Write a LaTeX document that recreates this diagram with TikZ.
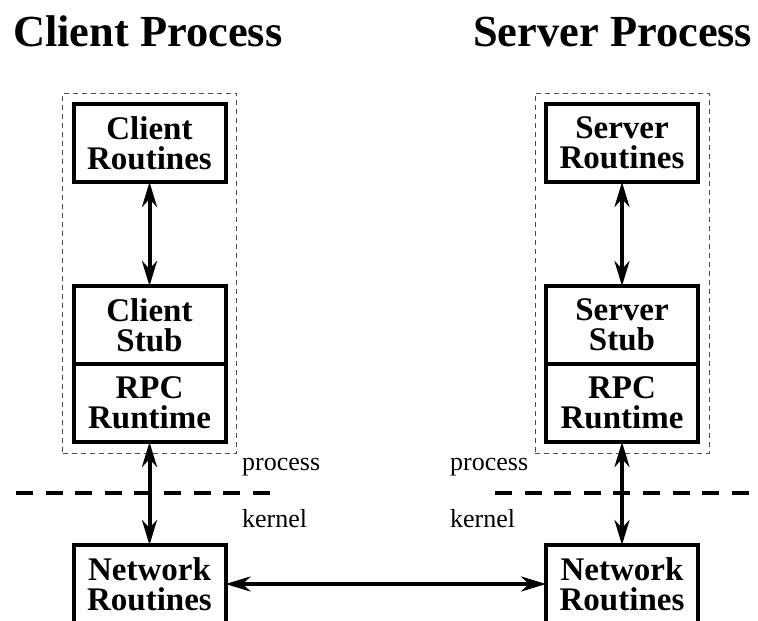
\documentclass[tikz,border=0pt]{standalone}
\usepackage{fontspec}
\setmainfont{Liberation Serif}
\usepackage{tikz}
\usetikzlibrary{arrows.meta}
\usetikzlibrary{positioning}
\usetikzlibrary{fit}

\begin{document}
\begin{tikzpicture}[x=1pt, y=-1pt,
  every node/.style = {align=center, inner sep=0pt},
  box/.style = {draw, line width=4pt, outer sep=0pt, minimum width=152pt,
    minimum height=78pt, font=\bfseries\fontsize{33}{30}\selectfont},
  title/.style = {anchor=base west, font=\bfseries\fontsize{44.4}{50}\selectfont},
  layer/.style = {anchor=base west, font=\fontsize{26}{30}\selectfont},
  group/.style = {draw=black!70, line width=1pt, dash pattern=on 5pt off 4pt,
    inner sep=11pt},
  link/.style = {line width=4pt, >={Stealth[length=25pt, width=15pt, inset=8pt]}, <->},
  split/.style = {line width=4pt, dash pattern=on 17pt off 12.6pt}]
  \useasboundingbox (0,0) rectangle (758,621);
  \node[title] (ctitle) at (13,46) {Client Process};
  \node[title] (stitle) at (473,46) {Server Process};
  \node[box] (croutines) at (149.5,143) {Client\\Routines};
  \node[box, below=104pt of croutines] (cstub) {Client\\Stub};
  \node[box, below=0pt of cstub] (cruntime) {RPC\\Runtime};
  \node[box] (cnet) at (149.5,584) {Network\\Routines};
  \node[box] (sroutines) at (622,143) {Server\\Routines};
  \node[box, below=104pt of sroutines] (sstub) {Server\\Stub};
  \node[box, below=0pt of sstub] (sruntime) {RPC\\Runtime};
  \node[box] (snet) at (622,584) {Network\\Routines};
  \node[group, fit=(croutines) (cruntime)] (cgroup) {};
  \node[group, fit=(sroutines) (sruntime)] (sgroup) {};
  \node[layer] (cproc) at (242,470) {process};
  \node[layer] (ckern) at (242,527) {kernel};
  \node[layer] (sproc) at (450,470) {process};
  \node[layer] (skern) at (450,527) {kernel};
  \draw[split] (16,493) -- (272,493);
  \draw[split] (495,493) -- (758,493);
  \draw[link] (croutines) -- (cstub);
  \draw[link] (cruntime) -- (cnet);
  \draw[link] (sroutines) -- (sstub);
  \draw[link] (sruntime) -- (snet);
  \draw[link] (cnet) -- (snet);
\end{tikzpicture}
\end{document}
